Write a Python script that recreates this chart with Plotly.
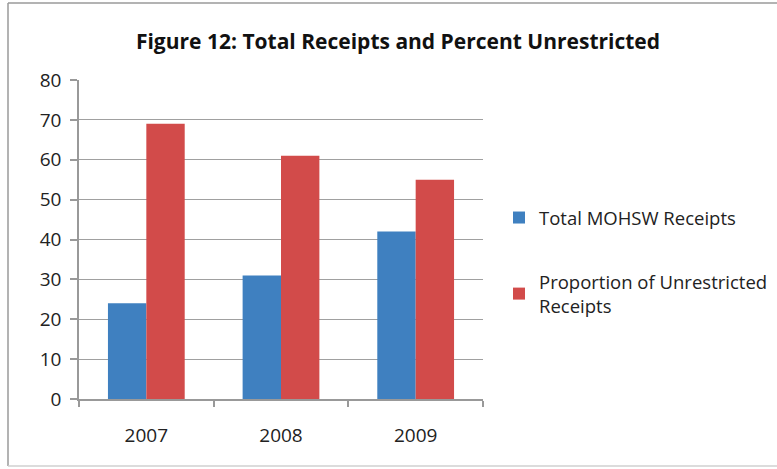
import plotly.graph_objects as go

years = ["2007", "2008", "2009"]
total_receipts = [24, 31, 42]
unrestricted_pct = [69, 61, 55]
y_ticks = [0, 10, 20, 30, 40, 50, 60, 70, 80]

L, R, T, B = 79, 777 - 483, 80, 469 - 399
W, H = 777, 469
pw, ph = W - L - R, H - T - B

def px_x(px):
    return (px - L) / pw

def px_y(py):
    return (H - B - py) / ph

FONT = "Open Sans, sans-serif"
BORDER = dict(color="#9A9A9A", width=1.5)

fig = go.Figure()
fig.add_trace(go.Bar(x=years, y=total_receipts, name="Total MOHSW Receipts",
                     marker=dict(color="#3F80C0", line=dict(width=0)), legendgroup="a"))
fig.add_trace(go.Bar(x=years, y=unrestricted_pct, name="Proportion of Unrestricted<br>Receipts",
                     marker=dict(color="#D24B4A", line=dict(width=0)), legendgroup="b"))

fig.update_layout(
    width=W, height=H,
    margin=dict(l=L, r=R, t=T, b=B, autoexpand=False),
    paper_bgcolor="white", plot_bgcolor="white",
    barmode="group", bargap=0.43, bargroupgap=0,
    font=dict(family=FONT, color="#222222", size=19),
    title=dict(text="<b>Figure 12: Total Receipts and Percent Unrestricted</b>",
               x=398 / W, xref="container", xanchor="center",
               y=1 - 42 / H, yref="container", yanchor="middle",
               font=dict(family=FONT, size=21, color="#111111")),
    showlegend=True,
    legend=dict(x=499 / W, y=1 - 199 / H, xref="container", yref="container",
                xanchor="left", yanchor="top",
                font=dict(family=FONT, size=18.5, color="#222222"),
                tracegroupgap=37, itemwidth=30, bgcolor="rgba(0,0,0,0)"),
    xaxis=dict(type="category", showgrid=False, showline=True, linecolor="#999999",
               linewidth=1.5, ticks="outside", tickson="boundaries", ticklen=6,
               tickcolor="#999999", tickwidth=1.5, ticklabelstandoff=18,
               tickfont=dict(family=FONT, size=19, color="#222222")),
    yaxis=dict(range=[0, 80], tickvals=y_ticks, showgrid=True, gridcolor="#A0A0A0",
               gridwidth=1, showline=True, linecolor="#999999", linewidth=1.5,
               ticks="outside", ticklen=7, tickcolor="#999999", tickwidth=1.5,
               zeroline=False, ticklabelstandoff=5,
               tickfont=dict(family=FONT, size=19, color="#222222")),
    shapes=[
        dict(type="line", xref="paper", yref="paper", x0=px_x(8), x1=px_x(777),
             y0=px_y(3), y1=px_y(3), line=BORDER, layer="below"),
        dict(type="line", xref="paper", yref="paper", x0=px_x(8), x1=px_x(8),
             y0=px_y(3), y1=px_y(466), line=BORDER, layer="below"),
        dict(type="line", xref="paper", yref="paper", x0=px_x(8), x1=px_x(777),
             y0=px_y(466), y1=px_y(466), line=dict(color="#D0D0D0", width=1.5), layer="below"),
    ],
)

fig.write_html("out.html", config={"displayModeBar": False},
               post_script="document.body.style.margin='0';document.body.style.overflow='hidden';")
